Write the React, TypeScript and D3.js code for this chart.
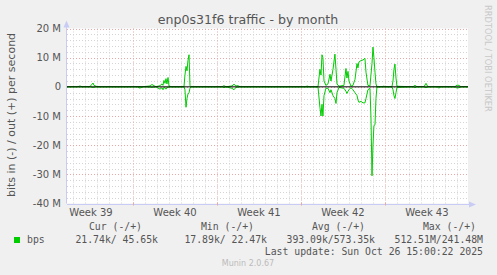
import React from "react";
import * as d3 from "d3";

// Days since Mon 22 Sep 2025 (start of Week 39); values in Mbit/s
const days = [
  1.5, 2.42, 2.58, 2.75, 3.42, 3.58, 3.67, 3.75, 3.92, 4.08,
  7.42, 7.5, 7.67, 7.83, 8.42, 8.58, 8.75, 8.92, 9.25, 9.42, 9.5, 9.58, 9.67, 9.75, 9.83, 9.92, 10.0, 10.17,
  11.25, 11.33, 11.42, 11.5, 11.58, 11.67, 11.75, 11.83,
  14.42, 14.58, 14.75, 15.25, 15.42, 15.58, 15.75, 15.92,
  17.75, 17.83, 17.92, 21.42, 21.5, 21.67,
  22.42, 22.58, 22.67, 22.75, 22.83, 22.92, 23.08, 23.25, 23.42, 23.5, 23.67, 23.83, 23.92, 24.0, 24.17,
  24.58, 24.75, 24.83, 24.92, 25.0, 25.17, 25.33, 25.5, 25.67, 25.75, 25.83, 26.0, 26.17, 26.33, 26.42,
  26.58, 26.75, 26.83, 26.92, 27.0, 27.08, 27.17, 27.25, 27.33,
  27.83, 27.92, 28.0, 28.58, 28.67, 28.75, 28.83, 28.92, 29.0,
  30.33, 30.5, 30.67, 31.25, 31.42, 31.58, 32.33, 32.5, 32.67, 33.83, 34.0, 34.17, 34.33, 34.75, 34.92,
];
const outMbps = [
  0.02, 0.05, 0.3, 0.02, 0.1, 0.9, 1.3, 0.5, 0.2, 0.02,
  0.02, 0.1, 0.05, 0.02, 0.3, 0.8, 0.4, 0.02, 0.4, 1.0, 0.5, 2.2, 1.2, 2.8, 1.0, 3.2, 0.3, 0.02,
  0.02, 4, 7, 5.5, 9, 11, 0.5, 0.02,
  0.02, 0.4, 0.02, 0.3, 0.9, 0.3, 0.4, 0.02,
  0.02, 0.2, 0.02, 0.02, 0.3, 0.02,
  0.02, 6, 4, 11, 10, 2, 0.5, 1, 4.3, 2, 6, 11.2, 6, 1, 0.2,
  0.5, 6.3, 3, 5.3, 2, 0.2, 0.5, 2.5, 8, 6.5, 8.5, 9, 9.2, 9.8, 5,
  0.5, 0.3, 4, 8, 13.6, 10, 5, 1, 0.02,
  0.1, 0.3, 0.02, 0.02, 2, 6, 7.8, 3, 0.2,
  0.02, 0.5, 0.02, 0.02, 1.2, 0.02, 0.02, 0.1, 0.02, 0.02, 0.6, 0.5, 0.02, 0.05, 0.02,
];
const inMbps = [
  0.02, 0.02, 0.05, 0.02, 0.05, 0.1, 0.3, 0.1, 0.05, 0.02,
  0.02, 0.4, 0.3, 0.02, 0.1, 0.2, 0.1, 0.02, 0.8, 0.3, 1.0, 0.4, 0.2, 0.8, 0.3, 0.2, 0.1, 0.02,
  0.02, 1, 7, 4, 2.5, 2, 0.5, 0.02,
  0.02, 0.3, 0.02, 0.5, 1.0, 0.2, 0.1, 0.02,
  0.02, 0.1, 0.02, 0.02, 0.1, 0.02,
  0.02, 7, 10, 6, 10, 3, 0.5, 0.5, 2, 1, 3, 4, 5.7, 2, 0.2,
  0.5, 1.5, 2.3, 1.5, 1, 0.3, 1.0, 2, 3, 4.5, 5.3, 5, 5.5, 5.5, 4,
  1, 0.5, 10, 30.5, 20, 13.3, 13, 4, 0.1,
  0.02, 0.1, 0.02, 0.02, 1, 3, 4, 2, 0.2,
  0.02, 0.3, 0.02, 0.02, 0.3, 0.02, 0.02, 0.4, 0.02, 0.02, 0.4, 0.3, 0.02, 0.02, 0.05,
];

const yTicks = [20, 10, 0, -10, -20, -30, -40];
const yTickLabels = ["20 M", "10 M", "0", "-10 M", "-20 M", "-30 M", "-40 M"];
const weekLabels = ["Week 39", "Week 40", "Week 41", "Week 42", "Week 43"];
const legendHeaders = ["Cur (-/+)", "Min (-/+)", "Avg (-/+)", "Max (-/+)"];
const legendValues = ["21.74k/ 45.65k", "17.89k/ 22.47k", "393.09k/573.35k", "512.51M/241.48M"];
const seriesName = "bps";
const title = "enp0s31f6 traffic - by month";
const yTitle = "bits in (-) / out (+) per second";
const lastUpdate = "Last update: Sun Oct 26 15:00:22 2025";

const W = 497;
const H = 275;
const green = "#00CC00";
const sans = "DejaVu Sans, sans-serif";
const mono = "DejaVu Sans Mono, monospace";

export default function App() {
  const x = d3.scaleLinear().domain([1.5, 34.92]).range([67, 468]);
  const y = d3.scaleLinear().domain([-40, 20]).range([203.5, 28.5]);
  const [x0, x1] = x.range();
  const [yb, yt] = y.range();

  const minorY = d3.range(-40, 21, 2).filter((v) => v % 10 !== 0);
  const dayLines = d3.range(2, 35, 1).filter((d) => d % 7 !== 0);
  const weekLines = [7, 14, 21, 28];

  const pts = days.map((d, i) => ({ d, o: outMbps[i], n: -inMbps[i] }));
  const lineOut = d3
    .line<{ d: number; o: number; n: number }>()
    .x((p) => x(p.d))
    .y((p) => y(p.o))(pts);
  const lineIn = d3
    .line<{ d: number; o: number; n: number }>()
    .x((p) => x(p.d))
    .y((p) => y(p.n))(pts);

  const legendRight = [142, 254, 365, 476];
  const valueRight = [158, 267, 375, 483];

  return (
    <svg
      width={W}
      height={H}
      style={{ position: "absolute", left: 0, top: 0, display: "block" }}
    >
      <rect x={0} y={0} width={W} height={H} fill="#F0F0F0" />
      <rect x={x0} y={yt} width={x1 - x0} height={yb - yt} fill="#FFFFFF" />

      {/* minor grid */}
      {minorY.map((v) => (
        <line key={"my" + v} x1={x0} x2={x1} y1={Math.round(y(v)) + 0.5} y2={Math.round(y(v)) + 0.5}
          stroke="#D4D4D4" strokeWidth={1} strokeDasharray="1,2" />
      ))}
      {dayLines.map((d) => (
        <line key={"dx" + d} x1={Math.round(x(d)) + 0.5} x2={Math.round(x(d)) + 0.5} y1={yt} y2={yb}
          stroke="#D4D4D4" strokeWidth={1} strokeDasharray="1,2" />
      ))}
      {/* major grid */}
      {yTicks.map((v) => (
        <line key={"My" + v} x1={x0} x2={x1} y1={Math.round(y(v)) + 0.5} y2={Math.round(y(v)) + 0.5}
          stroke="#E6A8A8" strokeWidth={1} strokeDasharray="1,2" />
      ))}
      {weekLines.map((d) => (
        <line key={"wx" + d} x1={Math.round(x(d)) + 0.5} x2={Math.round(x(d)) + 0.5} y1={yt} y2={yb}
          stroke="#E6A8A8" strokeWidth={1} strokeDasharray="1,2" />
      ))}

      {/* axes */}
      <line x1={x0 - 0.5} x2={x0 - 0.5} y1={yb} y2={yt - 4} stroke="#C8CCF4" strokeWidth={1} />
      <path d={`M${x0 - 3.5},${yt - 1} L${x0 - 0.5},${yt - 8} L${x0 + 2.5},${yt - 1} Z`} fill="#C8CCF4" />
      <line x1={x0} x2={x1 + 4} y1={Math.round(yb) + 0.5} y2={Math.round(yb) + 0.5} stroke="#C8CCF4" strokeWidth={1} />
      <path d={`M${x1 + 1},${Math.round(yb) - 2.5} L${x1 + 8},${Math.round(yb) + 0.5} L${x1 + 1},${Math.round(yb) + 3.5} Z`} fill="#C8CCF4" />
      {weekLines.map((d) => (
        <line key={"tk" + d} x1={Math.round(x(d)) + 0.5} x2={Math.round(x(d)) + 0.5} y1={yb - 1} y2={yb + 2}
          stroke="#E6A8A8" strokeWidth={1} />
      ))}

      {/* data */}
      <path d={lineOut ?? ""} fill="none" stroke={green} strokeWidth={1} />
      <path d={lineIn ?? ""} fill="none" stroke={green} strokeWidth={1} />
      <line x1={x0} x2={x1} y1={y(0)} y2={y(0)} stroke="#000" strokeWidth={1} />

      {/* y labels */}
      {yTicks.map((v, i) => (
        <text key={"yl" + v} x={61} y={y(v) + 3.5} textAnchor="end" fontFamily={sans} fontSize={10} fill="#555">
          {yTickLabels[i]}
        </text>
      ))}
      {/* week labels */}
      {weekLabels.map((w, i) => (
        <text key={w} x={x(3.5 + 7 * i)} y={216} textAnchor="middle" fontFamily={sans} fontSize={10} fill="#555">
          {w}
        </text>
      ))}

      <text x={248} y={24} textAnchor="middle" fontFamily={sans} fontSize={12.6} fill="#555">{title}</text>
      <text transform={`translate(15,115) rotate(-90)`} textAnchor="middle" fontFamily={sans} fontSize={11} fill="#555">
        {yTitle}
      </text>
      <text transform={`translate(485,5) rotate(90)`} textAnchor="start" fontFamily={sans} fontSize={8.3} fill="#C8C8C8">
        RRDTOOL / TOBI OETIKER
      </text>

      {/* legend */}
      {legendHeaders.map((h, i) => (
        <text key={h} x={legendRight[i]} y={230} textAnchor="end" fontFamily={mono} fontSize={9.8} fill="#555" style={{ whiteSpace: "pre" }}>
          {h}
        </text>
      ))}
      <rect x={14} y={237} width={6} height={6} fill={green} />
      <text x={27} y={243} fontFamily={mono} fontSize={9.8} fill="#555">{seriesName}</text>
      {legendValues.map((v, i) => (
        <text key={v} x={valueRight[i]} y={243} textAnchor="end" fontFamily={mono} fontSize={9.8} fill="#555" style={{ whiteSpace: "pre" }}>
          {v}
        </text>
      ))}
      <text x={483} y={255} textAnchor="end" fontFamily={mono} fontSize={9.8} fill="#555">{lastUpdate}</text>
      <text x={248} y={266} textAnchor="middle" fontFamily={sans} fontSize={8} fill="#BBBBBB">Munin 2.0.67</text>
    </svg>
  );
}
